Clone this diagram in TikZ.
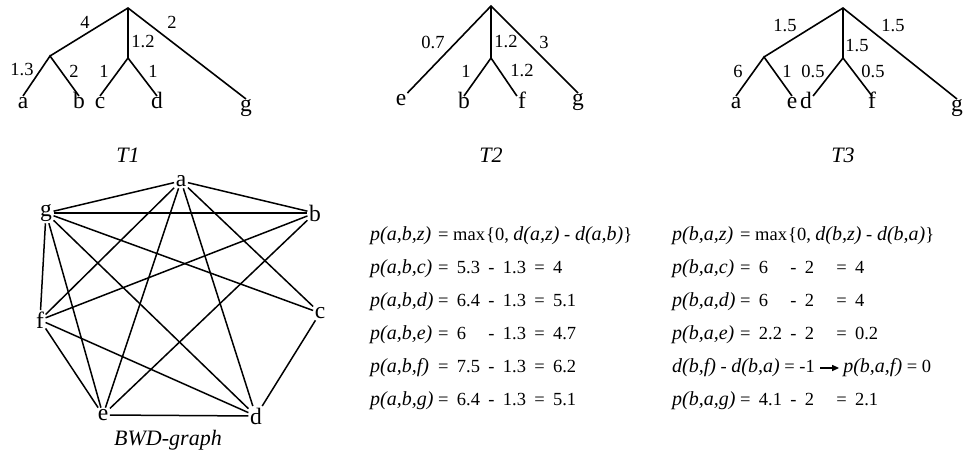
\documentclass[tikz,border=0pt]{standalone}
\usepackage{fontspec}
\setmainfont{Liberation Serif}
\usetikzlibrary{positioning,arrows.meta}
\newcommand{\iv}[1]{{\fontsize{20}{22}\selectfont\itshape #1}}
\newcommand{\lhs}[1]{\makebox[68pt][l]{\iv{#1}}}
\newcommand{\pad}[1]{\makebox[1.25em][l]{#1}}
\newcommand{\sep}{\hspace{0.45em}}
\tikzset{every node/.style={inner sep=1pt},branch/.style={line width=1.6pt},
 leaf/.style={anchor=north,inner ysep=6pt,font=\fontsize{23.5}{25}\selectfont,text height=0.68em,text depth=0.2em},
 wt/.style={font=\fontsize{18.5}{20}\selectfont},title/.style={font=\fontsize{22}{24}\selectfont\itshape},
 vtx/.style={font=\fontsize{23.5}{25}\selectfont,inner sep=1.5pt},link/.style={line width=1.5pt},
 eqn/.style={anchor=west,inner sep=0pt,font=\fontsize{18.5}{20}\selectfont},
 arr/.style={-{Triangle[length=7pt,width=6pt]},line width=1.2pt,shorten <=5pt,shorten >=4pt}}
\begin{document}
\begin{tikzpicture}[x=1pt,y=-1pt]
\useasboundingbox (0,0) rectangle (966,457);
\coordinate (r1) at (128,8);
\coordinate (j1) at (50,56);
\coordinate (k1) at (128,58);
\foreach \n/\x/\y in {a/23/96,b/79/96,c/100/96,d/157/96,g/246/99}
 \node[leaf] (t1\n) at (\x,\y) {\n};
\draw[branch] (j1) -- (r1) -- (t1g.north);
\draw[branch] (r1) -- (k1);
\draw[branch] (t1a.north) -- (j1) -- (t1b.north);
\draw[branch] (t1c.north) -- (k1) -- (t1d.north);
\foreach \t/\x/\y [count=\i] in {4/85/22,2/172/22,1.2/143/42,1.3/22/70,2/74/71,1/104/71,1/153/71}
 \node[wt] (w1\i) at (\x,\y) {\t};
\node[title] (cap1) at (128,155) {T1};
\coordinate (r2) at (491,6);
\coordinate (k2) at (491,58);
\foreach \n/\x/\y in {e/401/93,b/464/96,f/522/96,g/578/93}
 \node[leaf] (t2\n) at (\x,\y) {\n};
\draw[branch] (t2e.north east) -- (r2) -- (t2g.north);
\draw[branch] (r2) -- (k2);
\draw[branch] (t2b.north) -- (k2) -- (t2f.north west);
\foreach \t/\x/\y [count=\i] in {0.7/433/42,1.2/506/42,3/544/42,1/466/71,1.2/522/71}
 \node[wt] (w2\i) at (\x,\y) {\t};
\node[title] (cap2) at (491,155) {T2};
\coordinate (r3) at (843,8);
\coordinate (j3) at (764,57);
\coordinate (k3) at (843,58);
\foreach \n/\x/\y in {a/736/96,e/792/96,d/806/96,f/872/96,g/957/99}
 \node[leaf] (t3\n) at (\x,\y) {\n};
\draw[branch] (j3) -- (r3) -- (t3g.north);
\draw[branch] (r3) -- (k3);
\draw[branch] (t3a.north) -- (j3) -- (t3e.north);
\draw[branch] (t3d.north east) -- (k3) -- (t3f.north);
\foreach \t/\x/\y [count=\i] in {1.5/785/26,1.5/893/26,1.5/857/46,6/738/71,1/787/71,0.5/813/71,0.5/873/71}
 \node[wt] (w3\i) at (\x,\y) {\t};
\node[title] (cap3) at (843,155) {T3};
\foreach \n/\x/\y in {a/181/181,b/315/213,c/320/313,d/256/416,e/103/415,f/40/320,g/46/213}
 \node[vtx] (v\n) at (\x,\y) {\n};
\foreach \u/\v in {a/b,a/c,a/d,a/e,a/f,a/g,g/b,g/c,g/d,g/e,g/f,b/e,b/f,c/d,d/e,d/f,e/f}
 \draw[link] (v\u) -- (v\v);
\node[title] (bwd) at (168,440) {BWD-graph};
\node[eqn] (l0) at (370,236) {\lhs{p(a,b,z)}= max\kern1pt\{0, \iv{d(a,z)} - \iv{d(a,b)}\}};
\node[eqn] (l1) at (370,269) {\lhs{p(a,b,c)}=\sep\pad{5.3}\sep-\sep1.3\sep=\sep4};
\node[eqn] (l2) at (370,302) {\lhs{p(a,b,d)}=\sep\pad{6.4}\sep-\sep1.3\sep=\sep5.1};
\node[eqn] (l3) at (370,335) {\lhs{p(a,b,e)}=\sep\pad{6}\sep-\sep1.3\sep=\sep4.7};
\node[eqn] (l4) at (370,368) {\lhs{p(a,b,f)}=\sep\pad{7.5}\sep-\sep1.3\sep=\sep6.2};
\node[eqn] (l5) at (370,401) {\lhs{p(a,b,g)}=\sep\pad{6.4}\sep-\sep1.3\sep=\sep5.1};
\node[eqn] (q0) at (672,236) {\lhs{p(b,a,z)}= max\kern1pt\{0, \iv{d(b,z)} - \iv{d(b,a)}\}};
\node[eqn] (q1) at (672,269) {\lhs{p(b,a,c)}=\sep\pad{6}\sep-\sep\pad{2}\sep=\sep4};
\node[eqn] (q2) at (672,302) {\lhs{p(b,a,d)}=\sep\pad{6}\sep-\sep\pad{2}\sep=\sep4};
\node[eqn] (q3) at (672,335) {\lhs{p(b,a,e)}=\sep\pad{2.2}\sep-\sep\pad{2}\sep=\sep0.2};
\node[eqn] (q4) at (672,368) {\iv{d(b,f)} - \iv{d(b,a)} = -1};
\node[eqn,right=28pt of q4] (q4r) {\iv{p(b,a,f)} = 0};
\draw[arr] (q4) -- (q4r);
\node[eqn] (q5) at (672,401) {\lhs{p(b,a,g)}=\sep\pad{4.1}\sep-\sep\pad{2}\sep=\sep2.1};
\end{tikzpicture}
\end{document}
